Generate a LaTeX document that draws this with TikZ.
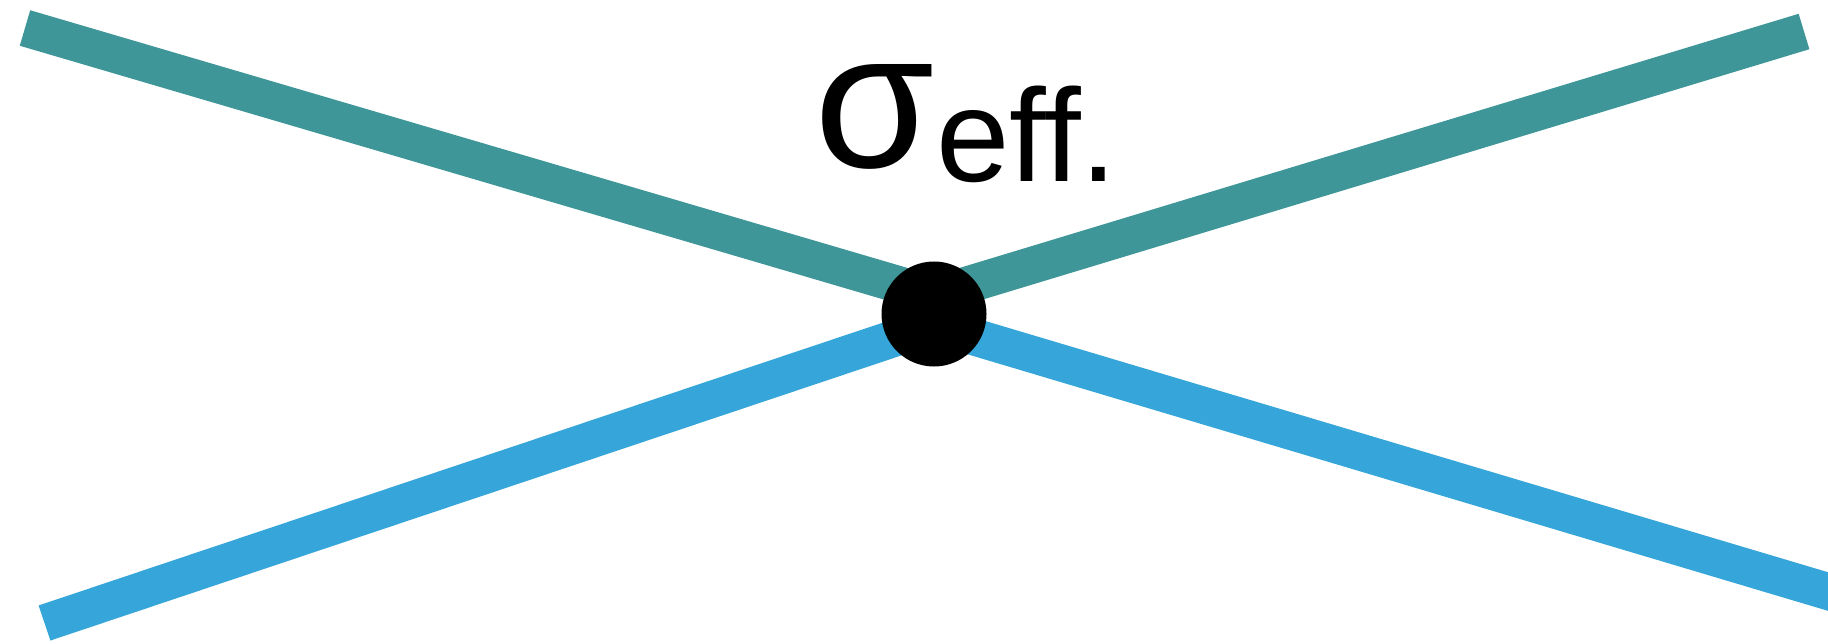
\documentclass[tikz,border=0pt]{standalone}
\usepackage{fontspec}
\setmainfont{Liberation Sans}
\definecolor{tealline}{RGB}{63,150,152}
\definecolor{blueline}{RGB}{53,165,218}
\begin{document}
\begin{tikzpicture}[x=1pt,y=-1pt,
  band/.style={line width=37pt,line cap=butt},
  dot/.style={circle,fill=black,inner sep=0pt,minimum size=105pt}]
\useasboundingbox (0,0) rectangle (1828,644);
\clip (0,0) rectangle (1828,644);
\coordinate (tl) at (25,28);
\coordinate (tm) at (934,295);
\coordinate (tr) at (1804,31.5);
\coordinate (bl) at (44.5,623);
\coordinate (bm) at (934,325);
\coordinate (br) at (1900,613);
\draw[band,tealline] (tl) -- (tm) -- (tr);
\draw[band,blueline] (bl) -- (bm) -- (br);
\node[dot] (c) at (934,314) {};
\node[anchor=base west,inner sep=0pt] (lab) at (814,168)
  {\fontsize{195}{200}\selectfont σ\hspace{2pt}\raisebox{-14pt}{\fontsize{132}{140}\selectfont eff.}};
\end{tikzpicture}
\end{document}
